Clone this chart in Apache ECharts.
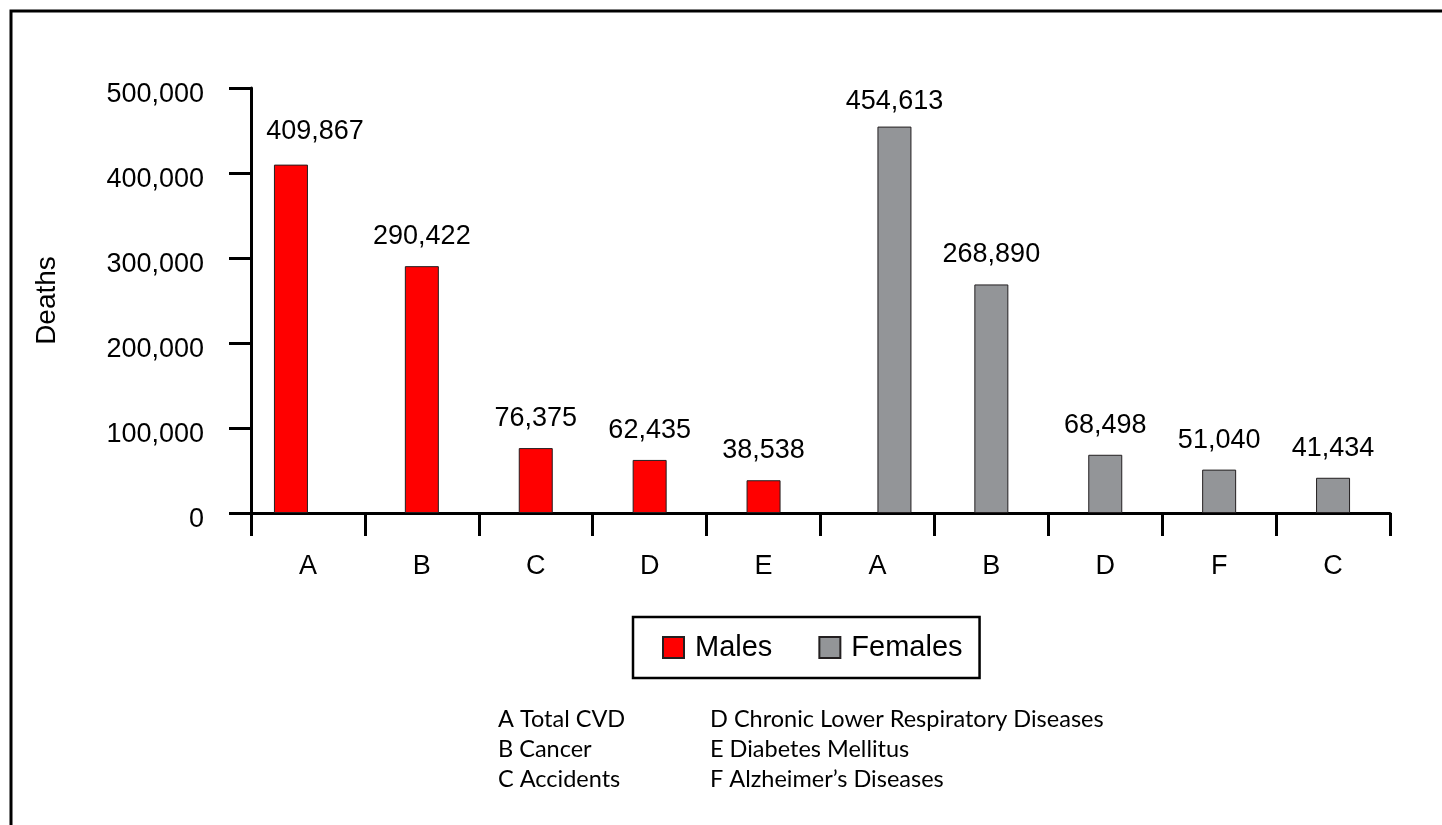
<!DOCTYPE html>
<html>
<head>
<meta charset="utf-8">
<script src="https://cdn.jsdelivr.net/npm/echarts@6/dist/echarts.min.js"></script>
<style>
html,body{margin:0;padding:0;background:#fff;}
#chart{width:1442px;height:825px;}
</style>
</head>
<body>
<div id="chart"></div>
<script>
// ---- data ----
var categories = ['A', 'B', 'C', 'D', 'E', 'A', 'B', 'D', 'F', 'C'];
var males   = [409867, 290422, 76375, 62435, 38538, null, null, null, null, null];
var females = [null, null, null, null, null, 454613, 268890, 68498, 51040, 41434];
var yTicks  = [0, 100000, 200000, 300000, 400000, 500000];
var keyLeft  = ['A Total CVD', 'B Cancer', 'C Accidents'];
var keyRight = ['D Chronic Lower Respiratory Diseases', 'E Diabetes Mellitus', 'F Alzheimer\u2019s Diseases'];

var FONT = '"Liberation Sans", Arial, Helvetica, sans-serif';
function fmt(v) { return String(v).replace(/\B(?=(\d{3})+(?!\d))/g, ','); }

// first category of each group sits on its own side; the rest centred
function only(arr, idx) { return arr.map(function (v, i) { return i === idx ? v : null; }); }
function except(arr, idx) { return arr.map(function (v, i) { return i === idx ? null : v; }); }
var firstFemale = females.findIndex(function (v) { return v != null; });

var maleStyle = { color: '#ff0000', borderColor: '#231f20', borderWidth: 1 };
var femaleStyle = { color: '#939598', borderColor: '#231f20', borderWidth: 1 };
function labelCfg(offset) {
  return {
    show: true, position: 'top', distance: 16, offset: offset || [0, 0],
    fontFamily: FONT, fontSize: 27, color: '#000',
    formatter: function (p) { return fmt(p.value); }
  };
}
function bar(name, data, stack, style, offset) {
  return { name: name, type: 'bar', stack: stack, data: data, barWidth: 34, barGap: '-50%',
           itemStyle: style, label: labelCfg(offset), emphasis: { disabled: true } };
}

var chart = echarts.init(document.getElementById('chart'), null, { renderer: 'canvas' });
chart.setOption({
  animation: false,
  backgroundColor: '#fff',
  grid: { left: 251, right: 52, top: 88, bottom: 312, containLabel: false },
  legend: {
    data: ['Males', 'Females'],
    left: 633, top: 617,
    orient: 'horizontal',
    itemWidth: 21, itemHeight: 21, itemGap: 46,
    icon: 'rect',
    padding: [16, 17, 16, 29],
    borderColor: '#000', borderWidth: 2.5,
    textStyle: { fontFamily: FONT, fontSize: 29, color: '#000', padding: [0, 0, 0, 6] },
    selectedMode: false
  },
  xAxis: {
    type: 'category',
    data: categories,
    boundaryGap: true,
    axisLine: { show: true, lineStyle: { color: '#000', width: 3 } },
    axisTick: { show: true, length: 23, lineStyle: { color: '#000', width: 3 } },
    axisLabel: { fontFamily: FONT, fontSize: 27, color: '#000', margin: 40, interval: 0 },
    splitLine: { show: false }
  },
  yAxis: {
    type: 'value',
    min: yTicks[0], max: yTicks[yTicks.length - 1], interval: yTicks[1] - yTicks[0],
    name: 'Deaths', nameLocation: 'middle', nameGap: 190, nameRotate: 90,
    nameTextStyle: { fontFamily: FONT, fontSize: 28, color: '#000' },
    axisLine: { show: true, lineStyle: { color: '#000', width: 3 } },
    axisTick: { show: true, length: 22, lineStyle: { color: '#000', width: 3 } },
    axisLabel: {
      margin: 47,
      formatter: function (v) { return '{t|' + fmt(v) + '}'; },
      rich: { t: { fontFamily: FONT, fontSize: 27, color: '#000', padding: [14, 0, 0, 0] } }
    },
    splitLine: { show: false }
  },
  series: [
    bar('Males', only(males, 0), 'left', maleStyle, [24, -4]),
    bar('Males', except(males, 0), 'mid', maleStyle),
    bar('Females', except(females, firstFemale), 'mid', femaleStyle),
    bar('Females', only(females, firstFemale), 'right', femaleStyle, [0, 4])
  ],
  graphic: [
    { type: 'rect', silent: true, shape: { x: 11, y: 11, width: 1500, height: 900 },
      style: { fill: 'none', stroke: '#000', lineWidth: 3 } },
    { type: 'text', left: 498, top: 704, silent: true,
      style: { text: keyLeft.join('\n'), fontFamily: 'Lato, "Open Sans", sans-serif', fontSize: 23.5, lineHeight: 30, fill: '#000' } },
    { type: 'text', left: 710, top: 704, silent: true,
      style: { text: keyRight.join('\n'), fontFamily: 'Lato, "Open Sans", sans-serif', fontSize: 23.5, lineHeight: 30, fill: '#000' } }
  ]
});
</script>
</body>
</html>
